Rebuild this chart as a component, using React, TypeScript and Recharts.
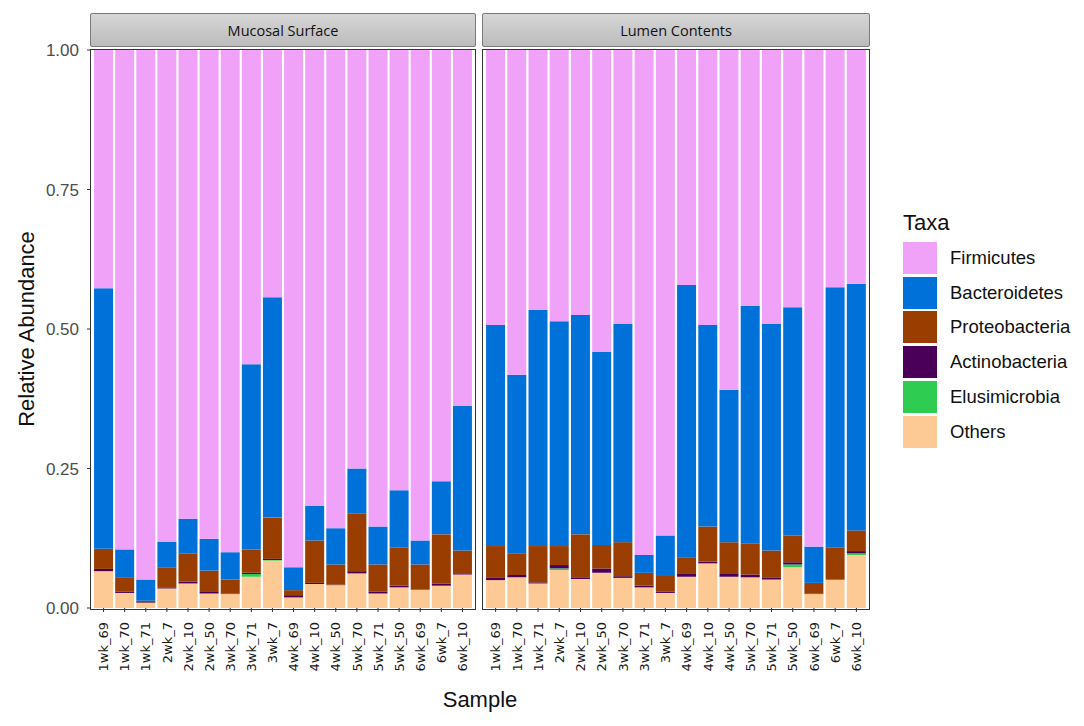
import { BarChart, Bar, XAxis, YAxis } from 'recharts';

const samples = [
  '1wk_69', '1wk_70', '1wk_71', '2wk_7', '2wk_10', '2wk_50', '3wk_70', '3wk_71', '3wk_7',
  '4wk_69', '4wk_10', '4wk_50', '5wk_70', '5wk_71', '5wk_50', '6wk_69', '6wk_7', '6wk_10',
];

const yTicks = [0, 0.25, 0.5, 0.75, 1];

const taxaColors: Record<string, string> = {
  Firmicutes: '#EFA2F8',
  Bacteroidetes: '#0071D9',
  Proteobacteria: '#993D00',
  Actinobacteria: '#4A0058',
  Elusimicrobia: '#2ECC50',
  Others: '#FDC994',
};
// legend order (top to bottom)
const legendTaxa = ['Firmicutes', 'Bacteroidetes', 'Proteobacteria', 'Actinobacteria', 'Elusimicrobia', 'Others'];
// stack order (bottom to top)
const stackTaxa = ['Others', 'Elusimicrobia', 'Actinobacteria', 'Proteobacteria', 'Bacteroidetes', 'Firmicutes'];

// Mucosal Surface
const mucOthers = [0.066, 0.027, 0.009, 0.035, 0.044, 0.026, 0.025, 0.056, 0.085, 0.019, 0.043, 0.041, 0.062, 0.026, 0.037, 0.033, 0.040, 0.060];
const mucElusi = [0, 0, 0, 0, 0, 0, 0, 0.005, 0.001, 0, 0, 0, 0, 0, 0, 0, 0, 0];
const mucActino = [0.004, 0.002, 0.001, 0.001, 0.003, 0.004, 0.001, 0.002, 0.002, 0.004, 0.002, 0.001, 0.004, 0.003, 0.003, 0.001, 0.004, 0.001];
const mucProteo = [0.036, 0.025, 0.003, 0.037, 0.051, 0.037, 0.025, 0.042, 0.074, 0.009, 0.076, 0.036, 0.104, 0.049, 0.068, 0.044, 0.088, 0.042];
const mucBactero = [0.467, 0.051, 0.038, 0.046, 0.062, 0.057, 0.049, 0.332, 0.395, 0.041, 0.062, 0.065, 0.080, 0.068, 0.103, 0.043, 0.095, 0.259];
const mucFirmi = [0.427, 0.895, 0.949, 0.881, 0.840, 0.876, 0.900, 0.563, 0.443, 0.927, 0.817, 0.857, 0.750, 0.854, 0.789, 0.879, 0.773, 0.638];

// Lumen Contents
const lumOthers = [0.050, 0.055, 0.044, 0.068, 0.052, 0.063, 0.054, 0.037, 0.027, 0.056, 0.080, 0.056, 0.055, 0.051, 0.073, 0.025, 0.051, 0.095];
const lumElusi = [0, 0, 0, 0.003, 0, 0, 0, 0, 0, 0, 0, 0, 0, 0, 0.005, 0, 0, 0.003];
const lumActino = [0.005, 0.004, 0.002, 0.006, 0.003, 0.008, 0.003, 0.003, 0.002, 0.005, 0.003, 0.005, 0.005, 0.003, 0.004, 0.001, 0.001, 0.004];
const lumProteo = [0.056, 0.039, 0.065, 0.034, 0.077, 0.042, 0.061, 0.023, 0.030, 0.030, 0.063, 0.057, 0.056, 0.049, 0.048, 0.019, 0.056, 0.037];
const lumBactero = [0.396, 0.320, 0.423, 0.403, 0.393, 0.346, 0.391, 0.032, 0.071, 0.488, 0.361, 0.273, 0.425, 0.406, 0.409, 0.065, 0.467, 0.442];
const lumFirmi = [0.493, 0.582, 0.466, 0.486, 0.475, 0.541, 0.491, 0.905, 0.870, 0.421, 0.493, 0.609, 0.459, 0.491, 0.461, 0.890, 0.425, 0.419];

function buildRows(o: number[], e: number[], a: number[], p: number[], b: number[], f: number[]) {
  return samples.map((s, i) => ({
    sample: s,
    Others: o[i],
    Elusimicrobia: e[i],
    Actinobacteria: a[i],
    Proteobacteria: p[i],
    Bacteroidetes: b[i],
    Firmicutes: f[i],
  }));
}

const mucosalData = buildRows(mucOthers, mucElusi, mucActino, mucProteo, mucBactero, mucFirmi);
const lumenData = buildRows(lumOthers, lumElusi, lumActino, lumProteo, lumBactero, lumFirmi);

const SampleTick = (props: any) => {
  const { x, y, payload } = props;
  return (
    <text
      x={x}
      y={y}
      transform={`rotate(-90, ${x}, ${y})`}
      textAnchor="end"
      dy="0.36em"
      fontSize={13}
      fontFamily="DejaVu Sans"
      fill="#1a1a1a"
    >
      {payload.value}
    </text>
  );
};

function Panel({ data, showY, left, width, margin }: any) {
  return (
    <div style={{ position: 'absolute', left, top: 0 }}>
      <BarChart width={width} height={726} data={data} margin={margin} barCategoryGap="5%">
        <XAxis
          dataKey="sample"
          interval={0}
          axisLine={false}
          tickLine={{ stroke: '#333' }}
          tickSize={4}
          tickMargin={10}
          height={60}
          padding={{ left: 2, right: 2 }}
          tick={<SampleTick />}
        />
        <YAxis
          hide={!showY}
          domain={[0, 1]}
          ticks={yTicks}
          tickFormatter={(v: number) => v.toFixed(2)}
          axisLine={false}
          tickLine={{ stroke: '#333' }}
          tickSize={4}
          tickMargin={8}
          width={40}
          tick={{ fill: '#4d4d4d', fontSize: 17, fontFamily: 'Liberation Sans' }}
        />
        {stackTaxa.map((t) => (
          <Bar key={t} dataKey={t} stackId="s" fill={taxaColors[t]} isAnimationActive={false} />
        ))}
      </BarChart>
    </div>
  );
}

const stripStyle = (left: number, width: number): any => ({
  position: 'absolute',
  left,
  top: 13,
  width,
  height: 34,
  boxSizing: 'border-box',
  border: '1px solid #7a7a7a',
  borderRadius: 2,
  background: 'linear-gradient(#d6d6d6, #bcbcbc)',
  display: 'flex',
  alignItems: 'center',
  justifyContent: 'center',
  fontFamily: 'Open Sans',
  fontSize: 14.5,
  color: '#111',
});

const borderStyle = (left: number, width: number): any => ({
  position: 'absolute',
  left,
  top: 49,
  width,
  height: 561,
  boxSizing: 'border-box',
  border: '1.5px solid #333',
  pointerEvents: 'none',
});

export default function App() {
  return (
    <div
      style={{
        position: 'absolute',
        left: 0,
        top: 0,
        width: 1084,
        height: 726,
        background: '#fff',
        fontFamily: 'Liberation Sans',
        overflow: 'hidden',
      }}
    >
      <Panel data={mucosalData} showY left={0} width={480} margin={{ top: 50, right: 5, bottom: 58, left: 51 }} />
      <Panel data={lumenData} showY={false} left={478} width={400} margin={{ top: 50, right: 9, bottom: 58, left: 5 }} />

      <div style={borderStyle(90, 386)} />
      <div style={borderStyle(482, 388)} />
      <div style={stripStyle(90, 386)}>Mucosal Surface</div>
      <div style={stripStyle(482, 388)}>Lumen Contents</div>

      <div
        style={{
          position: 'absolute',
          left: 27,
          top: 329,
          transform: 'translate(-50%, -50%) rotate(-90deg)',
          whiteSpace: 'nowrap',
          fontSize: 22,
          color: '#111',
        }}
      >
        Relative Abundance
      </div>
      <div
        style={{
          position: 'absolute',
          left: 480,
          top: 700,
          transform: 'translate(-50%, -50%)',
          fontSize: 22,
          color: '#111',
        }}
      >
        Sample
      </div>

      <div style={{ position: 'absolute', left: 903, top: 210, fontSize: 22, color: '#111' }}>Taxa</div>
      {legendTaxa.map((t, i) => (
        <div
          key={t}
          style={{
            position: 'absolute',
            left: 903,
            top: 242 + i * 34.7,
            height: 32,
            display: 'flex',
            alignItems: 'center',
          }}
        >
          <div style={{ width: 34, height: 32, background: taxaColors[t] }} />
          <div style={{ marginLeft: 13, fontSize: 18.5, color: '#111' }}>{t}</div>
        </div>
      ))}
    </div>
  );
}
